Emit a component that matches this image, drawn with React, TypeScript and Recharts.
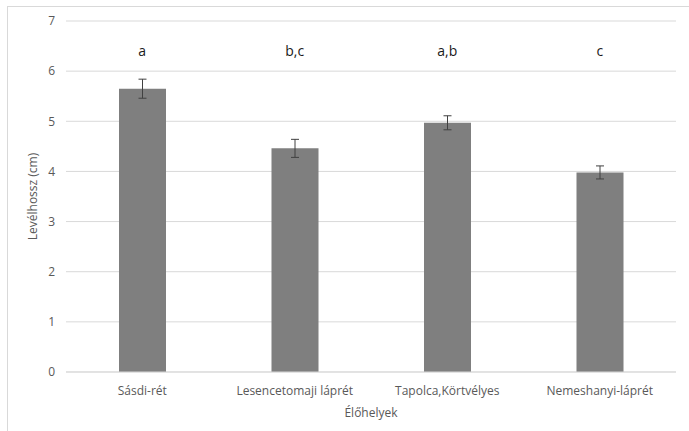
import {
  Bar,
  CartesianGrid,
  ComposedChart,
  ErrorBar,
  LabelList,
  Line,
  XAxis,
  YAxis,
} from "recharts";

const habitats = ["Sásdi-rét", "Lesencetomaji láprét", "Tapolca,Körtvélyes", "Nemeshanyi-láprét"];
const leafLength = [5.65, 4.46, 4.97, 3.98];
const leafError = [0.19, 0.18, 0.14, 0.13];
const groupLetters = ["a", "b,c", "a,b", "c"];
const letterLevel = 6.4;
const yTicks = [0, 1, 2, 3, 4, 5, 6, 7];

const rows = habitats.map((habitat, i) => ({
  habitat,
  length: leafLength[i],
  error: leafError[i],
  letter: groupLetters[i],
  letterLevel,
}));

const font = "'Open Sans', 'Noto Sans', sans-serif";

export default function App() {
  return (
    <div
      style={{
        position: "absolute",
        left: 0,
        top: 0,
        width: 689,
        height: 431,
        overflow: "hidden",
        background: "#fff",
        fontFamily: font,
      }}
    >
      <div
        style={{
          position: "absolute",
          left: 7,
          top: 6,
          width: 700,
          height: 440,
          borderTop: "1px solid #d9d9d9",
          borderLeft: "1px solid #d9d9d9",
        }}
      />
      <div style={{ position: "absolute", left: 0, top: 0 }}>
        <ComposedChart
          width={689}
          height={431}
          data={rows}
          margin={{ top: 21, right: 13, bottom: 14, left: 20 }}
        >
          <CartesianGrid stroke="#d9d9d9" vertical={false} />
          <XAxis
            dataKey="habitat"
            height={45}
            tickLine={false}
            tickSize={0}
            tickMargin={14}
            axisLine={{ stroke: "#d9d9d9" }}
            tick={{ fill: "#595959", fontSize: 12, fontFamily: font }}
            interval={0}
            label={{
              value: "Élőhelyek",
              position: "insideBottom",
              offset: 0,
              fill: "#595959",
              fontSize: 12,
              fontFamily: font,
            }}
          />
          <YAxis
            width={46}
            domain={[0, 7]}
            ticks={yTicks}
            tickLine={false}
            tickSize={0}
            tickMargin={11}
            axisLine={false}
            tick={{ fill: "#595959", fontSize: 12, fontFamily: font }}
            label={{
              value: "Levélhossz (cm)",
              angle: -90,
              position: "insideLeft",
              offset: 13,
              fill: "#595959",
              fontSize: 12,
              fontFamily: font,
              style: { textAnchor: "middle" },
            }}
          />
          <Bar dataKey="length" fill="#7f7f7f" barSize={47} isAnimationActive={false}>
            <ErrorBar dataKey="error" width={4} stroke="#404040" strokeWidth={1} />
          </Bar>
          <Line
            dataKey="letterLevel"
            stroke="none"
            dot={false}
            activeDot={false}
            isAnimationActive={false}
          >
            <LabelList
              dataKey="letter"
              position="center"
              fill="#1a1a1a"
              fontSize={14}
              fontFamily={font}
            />
          </Line>
        </ComposedChart>
      </div>
    </div>
  );
}
